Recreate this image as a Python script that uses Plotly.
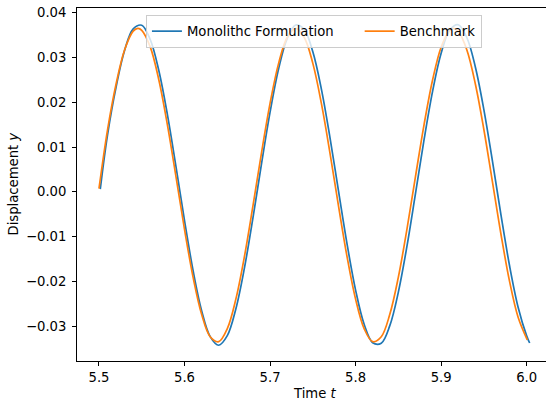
import plotly.graph_objects as go

# Monolithic formulation
t_mono = [5.5015, 5.51, 5.52, 5.53, 5.54, 5.55, 5.56, 5.57, 5.58, 5.59,
          5.60, 5.61, 5.62, 5.63, 5.64, 5.65, 5.66, 5.67, 5.68, 5.69,
          5.70, 5.71, 5.72, 5.73, 5.74, 5.75, 5.76, 5.77, 5.78, 5.79,
          5.80, 5.81, 5.82, 5.83, 5.84, 5.85, 5.86, 5.87, 5.88, 5.89,
          5.90, 5.91, 5.92, 5.93, 5.94, 5.95, 5.96, 5.97, 5.98, 5.99,
          6.00, 6.0035]
y_mono = [0.0006, 0.01274, 0.02342, 0.03162, 0.0364, 0.03722, 0.03398, 0.02706, 0.01725, 0.00564,
          -0.00643, -0.01759, -0.02657, -0.03236, -0.0343, -0.03216, -0.02619, -0.01707, -0.00584, 0.00624,
          0.01779, 0.02748, 0.03423, 0.03727, 0.03625, 0.03128, 0.02294, 0.01216, 0.00019, -0.01164,
          -0.02197, -0.02962, -0.03373, -0.03384, -0.02992, -0.02242, -0.0122, -0.00042, 0.01158, 0.02245,
          0.03094, 0.03609, 0.03732, 0.03448, 0.0279, 0.01832, 0.00685, -0.00523, -0.01654, -0.0258,
          -0.0322, -0.0338]

# Benchmark
t_bench = [5.50, 5.51, 5.52, 5.53, 5.54, 5.5455, 5.55, 5.56, 5.57, 5.58, 5.59,
           5.60, 5.61, 5.62, 5.63, 5.64, 5.65, 5.66, 5.67, 5.68, 5.69,
           5.70, 5.71, 5.72, 5.73, 5.74, 5.75, 5.76, 5.77, 5.78, 5.79,
           5.80, 5.81, 5.82, 5.83, 5.84, 5.85, 5.86, 5.87, 5.88, 5.89,
           5.90, 5.91, 5.9146, 5.92, 5.93, 5.94, 5.95, 5.96, 5.97, 5.98, 5.99,
           6.0007]
y_bench = [0.0007, 0.01385, 0.02409, 0.03173, 0.03589, 0.0365, 0.03609, 0.03232, 0.02499, 0.01497, 0.00339,
           -0.00841, -0.01908, -0.02739, -0.03239, -0.0335, -0.0306, -0.024, -0.0145, -0.00316, 0.00871,
           0.01974, 0.02869, 0.03449, 0.0365, 0.03449, 0.02869, 0.01975, 0.00871, -0.00316, -0.0145,
           -0.024, -0.03059, -0.0335, -0.03239, -0.02739, -0.01908, -0.00841, 0.00339, 0.01497, 0.02499,
           0.03231, 0.03609, 0.0365, 0.03589, 0.03173, 0.02409, 0.01386, 0.0022, -0.00955, -0.02003, -0.02805,
           -0.0331]

x_ticks = [5.5, 5.6, 5.7, 5.8, 5.9, 6.0]
y_ticks = [-0.03, -0.02, -0.01, 0.00, 0.01, 0.02, 0.03, 0.04]

FONT = "DejaVu Sans"
FS = 13.2
PAD = "\u00a0" * 5

fig = go.Figure()
fig.add_trace(go.Scatter(x=t_mono, y=y_mono, mode="lines", name="Monolithc Formulation" + PAD,
                         line=dict(color="#1f77b4", width=1.7, shape="spline", smoothing=1.0)))
fig.add_trace(go.Scatter(x=t_bench, y=y_bench, mode="lines", name="Benchmark",
                         line=dict(color="#ff7f0e", width=1.7, shape="spline", smoothing=1.0)))

fig.update_layout(
    width=546, height=400,
    margin=dict(l=77, r=0, t=8, b=39),
    plot_bgcolor="white", paper_bgcolor="white",
    font=dict(family=FONT, size=FS, color="black"),
    showlegend=True,
    legend=dict(orientation="h", x=0.147, y=0.98, xanchor="left", yanchor="top",
                bgcolor="rgba(255,255,255,0.8)", bordercolor="#cccccc", borderwidth=1,
                font=dict(family=FONT, size=FS, color="black")),
    xaxis=dict(range=[5.4743, 6.0226], tickvals=x_ticks, tickformat=".1f",
               showgrid=False, zeroline=False, showline=True, linecolor="black", linewidth=0.9,
               mirror=True, ticks="outside", ticklen=4, tickwidth=0.9, tickcolor="black"),
    yaxis=dict(range=[-0.03782, 0.04107], tickvals=y_ticks, tickformat=".2f",
               showgrid=False, zeroline=False, showline=True, linecolor="black", linewidth=0.9,
               ticks="outside", ticklen=4, tickwidth=0.9, tickcolor="black",
               ticklabelstandoff=3),
    annotations=[
        dict(text="Time <i>t</i>", xref="paper", yref="paper", x=(314 - 77) / 469, y=0,
             yshift=-32, xanchor="center", yanchor="middle", showarrow=False,
             font=dict(family=FONT, size=FS, color="black")),
        dict(text="Displacement <i>y</i>", xref="paper", yref="paper", x=0, y=0.5,
             xshift=-64, xanchor="center", yanchor="middle", textangle=-90, showarrow=False,
             font=dict(family=FONT, size=FS, color="black")),
    ],
)

fig.write_html("out.html")
